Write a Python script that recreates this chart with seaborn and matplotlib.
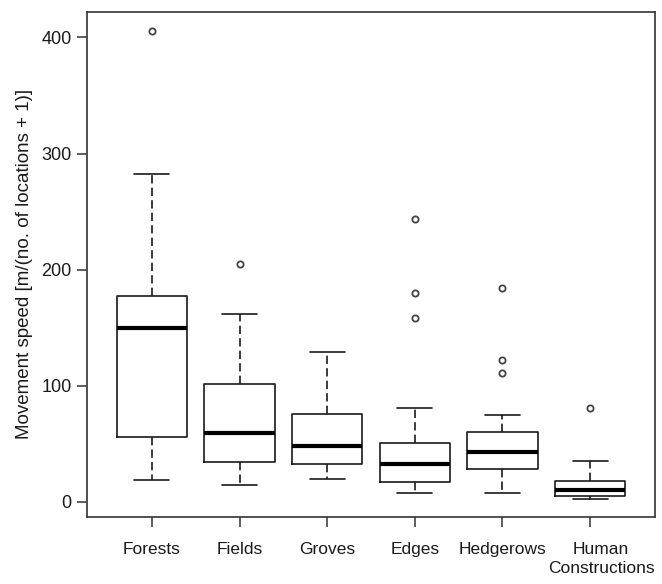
import matplotlib
matplotlib.use("Agg")
import matplotlib.pyplot as plt
import matplotlib.transforms as mtransforms
import seaborn as sns

# Box statistics
habitats = ["Forests", "Fields", "Groves", "Edges", "Hedgerows", "Human\nConstructions"]
whisker_low = [18.7, 14.4, 19.5, 7.5, 7.5, 2.6]
q1 = [55.7, 34.4, 32.7, 16.9, 28.6, 5.2]
medians = [150.0, 59.6, 48.2, 32.4, 43.0, 10.1]
q3 = [177.7, 101.7, 75.9, 50.7, 60.2, 17.8]
whisker_high = [282.5, 161.6, 129.2, 81.1, 74.8, 35.3]
outliers = [[405.7], [204.9], [], [243.3, 179.7, 158.8], [184.0, 122.4, 110.9], [80.8]]

sns.set_style("ticks")
plt.rcParams["font.family"] = ["Liberation Sans", "DejaVu Sans"]

stats = []
for i, name in enumerate(habitats):
    stats.append({
        "label": name,
        "whislo": whisker_low[i],
        "q1": q1[i],
        "med": medians[i],
        "q3": q3[i],
        "whishi": whisker_high[i],
        "fliers": outliers[i],
    })

fig = plt.figure(figsize=(6.62, 5.84), dpi=100)
ax = fig.add_axes([0.1314, 0.1147, 0.858, 0.865])

line_col = "#1a1a1a"
ax.bxp(
    stats,
    positions=range(1, len(habitats) + 1),
    widths=0.8,
    capwidths=0.4,
    boxprops=dict(color=line_col, linewidth=1.2),
    medianprops=dict(color="black", linewidth=3.0),
    whiskerprops=dict(color=line_col, linewidth=1.2, linestyle=(0, (5, 2.5))),
    capprops=dict(color=line_col, linewidth=1.2),
    flierprops=dict(marker="o", markersize=4.5, markerfacecolor="none",
                    markeredgecolor="#444444", markeredgewidth=1.3),
)

ax.set_xlim(0.26, 6.74)
ax.set_ylim(-13, 422)
ax.set_yticks([0, 100, 200, 300, 400])
ax.set_xticks(range(1, len(habitats) + 1))
ax.set_xticklabels(habitats, fontsize=12.5, color="#1a1a1a", linespacing=1.3)
ax.tick_params(axis="y", labelsize=13, labelcolor="#1a1a1a", length=7, width=1.1,
               color="#333333", pad=4)
ax.tick_params(axis="x", length=7, width=1.1, color="#333333", pad=11)
ax.set_ylabel("Movement speed [m/(no. of locations + 1)]", fontsize=13.5,
              color="#1a1a1a", labelpad=6)

# the last (two-line) label sits a little to the right of its tick in the original
last = ax.get_xticklabels()[-1]
last.set_transform(last.get_transform() +
                   mtransforms.ScaledTranslation(11 / 100, 0, fig.dpi_scale_trans))

for side in ["top", "right", "bottom", "left"]:
    ax.spines[side].set_visible(True)
    ax.spines[side].set_color("#333333")
    ax.spines[side].set_linewidth(1.2)

fig.savefig("out.png", dpi=100)
